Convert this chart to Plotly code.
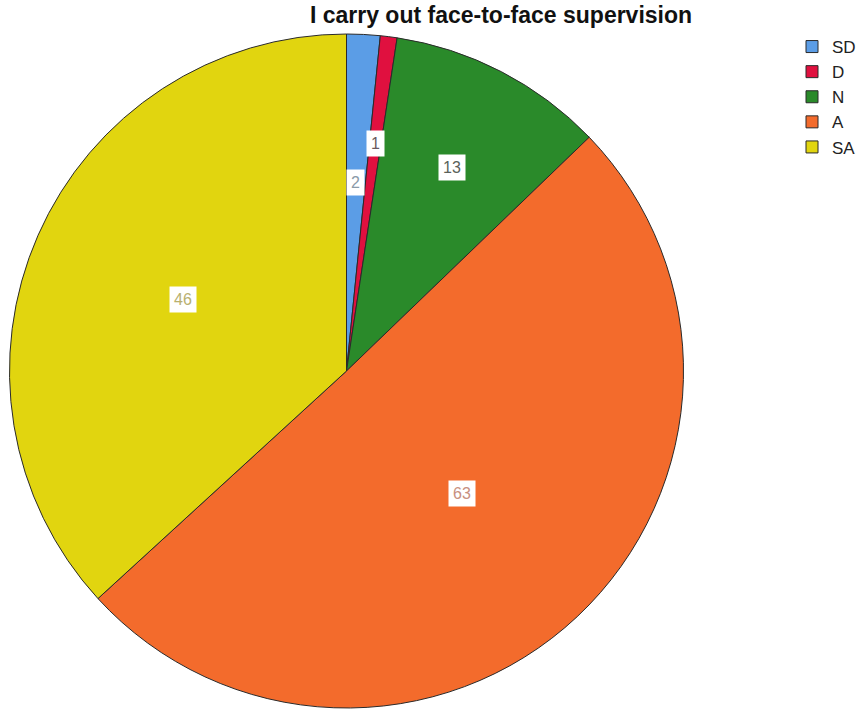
import math
import plotly.graph_objects as go

categories = ["SD", "D", "N", "A", "SA"]
counts = [2, 1, 13, 63, 46]
colors = ["#5b9de6", "#e0103f", "#2a8a2a", "#f36b2c", "#e1d50f"]
label_colors = ["#8a9aa8", "#6a5a5e", "#5a625a", "#c89080", "#b8b070"]
label_radius = [0.56, 0.68, 0.68, 0.50, 0.53]

W, H = 864, 709
cx, cy, R = 346.5, 371.0, 337.0

fig = go.Figure()
fig.add_trace(go.Pie(
    labels=categories, values=counts, sort=False, direction="clockwise", rotation=0,
    marker=dict(colors=colors, line=dict(color="#2a2a2a", width=1)),
    textinfo="none", hoverinfo="label+value",
    domain=dict(x=[(cx - R) / W, (cx + R) / W], y=[1 - (cy + R) / H, 1 - (cy - R) / H]),
))

total = sum(counts)
cum = 0
annotations = []
for cat, v, tc, rf in zip(categories, counts, label_colors, label_radius):
    ang = math.radians((cum + v / 2) / total * 360)
    cum += v
    px = cx + R * rf * math.sin(ang)
    py = cy - R * rf * math.cos(ang)
    annotations.append(dict(
        x=px / W, y=1 - py / H, xref="paper", yref="paper", showarrow=False,
        xanchor="center", yanchor="middle",
        text=str(v), font=dict(family="Liberation Sans, Arial", size=16, color=tc),
        bgcolor="white", borderpad=4,
    ))

fig.update_layout(
    width=W, height=H, margin=dict(l=0, r=0, t=0, b=0, autoexpand=False),
    paper_bgcolor="white", plot_bgcolor="white",
    title=dict(text="<b>I carry out face-to-face supervision</b>", x=501 / W, y=1 - 15 / H,
               xanchor="center", yanchor="middle",
               font=dict(family="Liberation Sans, Arial", size=23, color="#111")),
    legend=dict(x=792 / W, y=1 - 29 / H, xanchor="left", yanchor="top",
                font=dict(family="Liberation Sans, Arial", size=17, color="#222"),
                tracegroupgap=0, itemwidth=30, bgcolor="rgba(0,0,0,0)"),
    annotations=annotations,
)

fig.write_html("out.html")
